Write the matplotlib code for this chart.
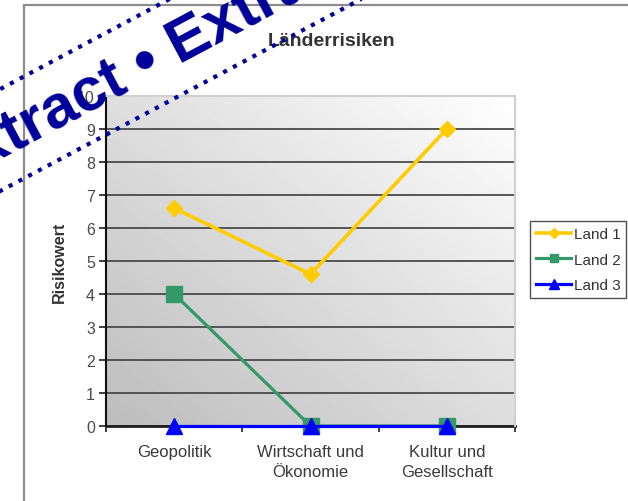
import numpy as np
import matplotlib
matplotlib.use("Agg")
import matplotlib.pyplot as plt
from matplotlib.patches import Rectangle

plt.rcParams['font.family'] = 'Liberation Sans'

categories = ["Geopolitik", "Wirtschaft und\nÖkonomie", "Kultur und\nGesellschaft"]
land1 = [6.6, 4.6, 9.0]
land2 = [4.0, 0.0, 0.0]
land3 = [0.0, 0.0, 0.0]
series_names = ["Land 1", "Land 2", "Land 3"]

fig = plt.figure(figsize=(6.28, 5.02), dpi=100)
fig.patch.set_facecolor('white')

# outer chart frame (runs off the right and bottom edges)
fig.patches.append(Rectangle((24 / 628, -0.1), 1.0, 1 - 6 / 502 + 0.1,
                             transform=fig.transFigure, fill=False,
                             ec='#8c8c8c', lw=1.6))

ax = fig.add_axes([106 / 628, 1 - 427 / 502, 409 / 628, 330 / 502])

# diagonal grey gradient in plot area
gx, gy = np.meshgrid(np.linspace(0, 1, 300), np.linspace(0, 1, 300))
grad = 0.74 + 0.26 * (gx + gy) / 2
ax.imshow(grad, cmap='gray', vmin=0, vmax=1, origin='lower',
          extent=(0, 1, 0, 1), transform=ax.transAxes, aspect='auto', zorder=0)

x = np.arange(len(categories))
ax.plot(x, land1, color='#ffcc00', lw=2.6, marker='D', ms=8.5, mew=1,
        label=series_names[0], clip_on=False, zorder=3)
ax.plot(x, land2, color='#339966', lw=2.3, marker='s', ms=11, mew=1,
        label=series_names[1], clip_on=False, zorder=4)
ax.plot(x, land3, color='#0000ff', lw=2.3, marker='^', ms=12, mew=1,
        label=series_names[2], clip_on=False, zorder=5)

ax.set_xlim(-0.5, 2.5)
ax.set_ylim(0, 10)
ax.set_yticks(range(0, 11))
ax.yaxis.grid(True, color='#4a4a4a', lw=1.3)
ax.set_axisbelow(True)
for gl in ax.get_ygridlines():
    gl.set_zorder(1)

ax.set_xticks(x)
ax.set_xticklabels(categories, fontsize=12, color='#3a3a3a', linespacing=1.4)
ax.set_xticks([-0.5, 0.5, 1.5, 2.5], minor=True)
ax.tick_params(axis='x', which='major', length=0, pad=13)
ax.tick_params(axis='x', which='minor', length=4, width=1.2, color='#202020')
ax.tick_params(axis='y', length=5, width=1.2, color='#202020', pad=3,
               labelsize=11.5, labelcolor='#4a4a4a')

ax.spines['left'].set_color('#101010')
ax.spines['left'].set_linewidth(1.5)
ax.spines['bottom'].set_color('#202020')
ax.spines['bottom'].set_linewidth(2)
ax.spines['bottom'].set_zorder(2)
ax.spines['top'].set_color('#d0d0d0')
ax.spines['right'].set_color('#d0d0d0')
ax.spines['top'].set_linewidth(1.5)
ax.spines['right'].set_linewidth(1.5)

ax.set_ylabel("Risikowert", fontsize=11.5, fontweight='bold', color='#333333')
ax.yaxis.set_label_coords(-0.095, 0.5)

fig.text(332 / 628, 1 - 42 / 502, "Länderrisiken", ha='center', va='center',
         fontsize=14, fontweight='bold', color='#333333')

leg = fig.legend(loc='upper left', bbox_to_anchor=(530 / 628, 1 - 222 / 502),
                 borderaxespad=0, fontsize=11, markerscale=0.55,
                 handlelength=2.3, handletextpad=0.15, labelspacing=0.75,
                 borderpad=0.4, fancybox=False, framealpha=1,
                 edgecolor='#505050')
leg.get_frame().set_linewidth(1.0)
for t in leg.get_texts():
    t.set_color('#333333')

# watermark
fig.text(147 / 628, 1 - 63 / 502, "Extract \u2022 Extract", ha='center',
         va='center', rotation=28, rotation_mode='anchor', fontsize=44,
         fontweight='bold', color='#000099', zorder=10,
         bbox=dict(boxstyle='square,pad=0.27', fc='none', ec='#000099',
                   lw=3, ls=':'))

fig.savefig('out.png', dpi=100)
